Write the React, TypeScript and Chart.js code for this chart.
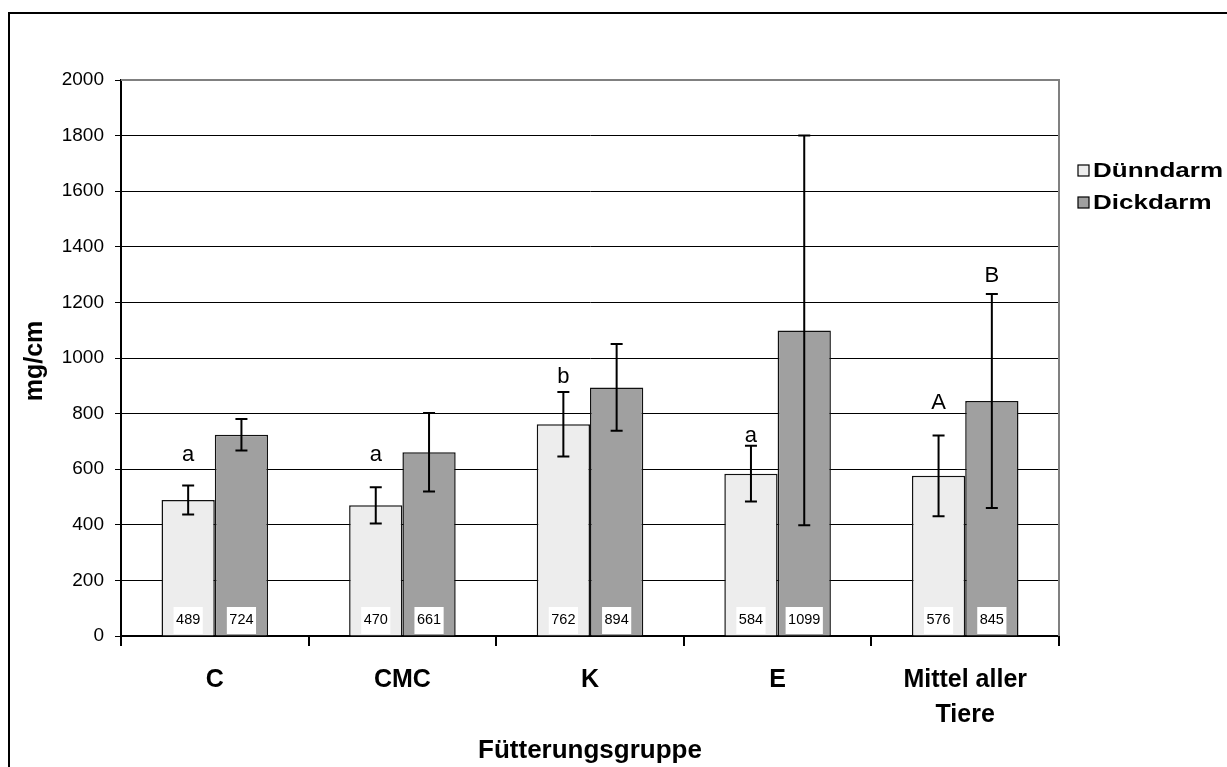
import React, { useEffect, useRef } from 'react';
import { Chart, registerables } from 'chart.js';

Chart.register(...registerables);

const categories: (string | string[])[] = ['C', 'CMC', 'K', 'E', ['Mittel aller', 'Tiere']];
const seriesNames = ['Dünndarm', 'Dickdarm'];
const duenndarm = [489, 470, 762, 584, 576];
const dickdarm = [724, 661, 894, 1099, 845];
const duenndarmErr = [52, 65, 116, 100, 145];
const dickdarmErr = [57, 141, 156, 701, 385];
const duenndarmLetters = ['a', 'a', 'b', 'a', 'A'];
const dickdarmLetters = ['', '', '', '', 'B'];
const duenndarmLetterLevel = [630, 630, 910, 698, 817];
const dickdarmLetterLevel = [0, 0, 0, 0, 1274];
const yTicksMin = 0;
const yTicksMax = 2000;
const yTickStep = 200;
const yTitle = 'mg/cm';
const xTitle = 'Fütterungsgruppe';

const FONT = '"Liberation Sans", Arial, Helvetica, sans-serif';
const LIGHT = '#EDEDED';
const DARK = '#A0A0A0';

export default function App() {
  const ref = useRef<HTMLCanvasElement | null>(null);

  useEffect(() => {
    const canvas = ref.current;
    if (!canvas) return;
    const errs = [duenndarmErr, dickdarmErr];
    const letters = [duenndarmLetters, dickdarmLetters];
    const letterLevels = [duenndarmLetterLevel, dickdarmLetterLevel];
    const colors = [LIGHT, DARK];

    const plugin = {
      id: 'customDecor',
      beforeDraw(chart: any) {
        const ctx = chart.ctx;
        ctx.save();
        ctx.fillStyle = '#fff';
        ctx.fillRect(0, 0, chart.width, chart.height);
        ctx.strokeStyle = '#000';
        ctx.lineWidth = 2;
        ctx.strokeRect(9, 13, chart.width + 50, chart.height + 50);
        ctx.restore();
      },
      afterDatasetsDraw(chart: any) {
        const ctx = chart.ctx;
        const yScale = chart.scales.y;
        ctx.save();
        for (let d = 0; d < 2; d++) {
          const meta = chart.getDatasetMeta(d);
          const vals = chart.data.datasets[d].data as number[];
          meta.data.forEach((bar: any, i: number) => {
            const x = bar.x;
            const yt = yScale.getPixelForValue(vals[i] + errs[d][i]);
            const yb = yScale.getPixelForValue(vals[i] - errs[d][i]);
            ctx.strokeStyle = '#000';
            ctx.lineWidth = 2;
            ctx.beginPath();
            ctx.moveTo(x, yt);
            ctx.lineTo(x, yb);
            ctx.moveTo(x - 6, yt);
            ctx.lineTo(x + 6, yt);
            ctx.moveTo(x - 6, yb);
            ctx.lineTo(x + 6, yb);
            ctx.stroke();
          });
        }
        ctx.font = `14.5px ${FONT}`;
        ctx.textAlign = 'center';
        ctx.textBaseline = 'middle';
        for (let d = 0; d < 2; d++) {
          const meta = chart.getDatasetMeta(d);
          const vals = chart.data.datasets[d].data as number[];
          meta.data.forEach((bar: any, i: number) => {
            const txt = String(vals[i]);
            const w = ctx.measureText(txt).width + 5;
            const bottom = yScale.bottom;
            ctx.fillStyle = '#fff';
            ctx.fillRect(bar.x - w / 2, bottom - 29, w, 27);
            ctx.fillStyle = '#000';
            ctx.fillText(txt, bar.x, bottom - 16);
          });
        }
        ctx.font = `22px ${FONT}`;
        ctx.textBaseline = 'alphabetic';
        for (let d = 0; d < 2; d++) {
          const meta = chart.getDatasetMeta(d);
          meta.data.forEach((bar: any, i: number) => {
            const l = letters[d][i];
            if (!l) return;
            ctx.fillText(l, bar.x, yScale.getPixelForValue(letterLevels[d][i]));
          });
        }
        ctx.restore();
      },
      afterDraw(chart: any) {
        const ctx = chart.ctx;
        const a = chart.chartArea;
        ctx.save();
        ctx.strokeStyle = '#808080';
        ctx.lineWidth = 2;
        ctx.beginPath();
        ctx.moveTo(a.left, a.top);
        ctx.lineTo(a.right, a.top);
        ctx.lineTo(a.right, a.bottom);
        ctx.stroke();
        ctx.fillStyle = '#000';
        ctx.font = `bold 26px ${FONT}`;
        ctx.textAlign = 'center';
        ctx.textBaseline = 'middle';
        ctx.fillText(xTitle, (a.left + a.right) / 2, 751);
        ctx.font = `bold 25px ${FONT}`;
        ctx.save();
        ctx.translate(35, 361);
        ctx.rotate(-Math.PI / 2);
        ctx.fillText(yTitle, 0, 0);
        ctx.restore();
        const rows = [171, 203];
        rows.forEach((ry, k) => {
          ctx.fillStyle = colors[k];
          ctx.fillRect(1078, ry - 6, 11, 11);
          ctx.strokeStyle = '#000';
          ctx.lineWidth = 1.2;
          ctx.strokeRect(1078, ry - 6, 11, 11);
          ctx.save();
          ctx.translate(1093, ry);
          ctx.scale(1.3, 1);
          ctx.fillStyle = '#000';
          ctx.font = `bold 20px ${FONT}`;
          ctx.textAlign = 'left';
          ctx.textBaseline = 'middle';
          ctx.fillText(seriesNames[k], 0, 0);
          ctx.restore();
        });
        ctx.restore();
      },
    };

    const chart = new Chart(canvas, {
      type: 'bar',
      data: {
        labels: categories,
        datasets: [
          {
            label: seriesNames[0],
            data: duenndarm,
            backgroundColor: LIGHT,
            borderColor: '#111',
            borderWidth: 1.5,
            categoryPercentage: 0.568,
            barPercentage: 1,
          },
          {
            label: seriesNames[1],
            data: dickdarm,
            backgroundColor: DARK,
            borderColor: '#111',
            borderWidth: 1.5,
            categoryPercentage: 0.568,
            barPercentage: 1,
          },
        ],
      },
      options: {
        animation: false,
        responsive: true,
        maintainAspectRatio: false,
        layout: { padding: { left: 0, top: 80, right: 168, bottom: 0 } },
        plugins: {
          legend: { display: false },
          tooltip: { enabled: false },
          title: { display: false },
        },
        scales: {
          x: {
            offset: true,
            grid: {
              display: true,
              offset: true,
              drawOnChartArea: false,
              drawTicks: true,
              tickLength: 10,
              color: '#000',
              lineWidth: 2,
            },
            border: { display: true, color: '#000', width: 2 },
            ticks: {
              color: '#000',
              padding: 17,
              maxRotation: 0,
              autoSkip: false,
              font: { family: FONT, size: 25, weight: 'bold', lineHeight: '35px' } as any,
            },
            afterFit: (s: any) => {
              s.height = 131;
            },
          },
          y: {
            min: yTicksMin,
            max: yTicksMax,
            ticks: {
              stepSize: yTickStep,
              color: '#000',
              padding: 11,
              font: { family: FONT, size: 19 },
              callback: (v: any) => String(v),
            },
            grid: {
              color: (c: any) => (c.tick && c.tick.value === yTicksMax ? '#808080' : '#000'),
              lineWidth: 1,
              drawTicks: true,
              tickLength: 6,
              tickColor: '#000',
            },
            border: { display: true, color: '#000', width: 2 },
            afterFit: (s: any) => {
              s.width = 121;
            },
          },
        },
      },
      plugins: [plugin],
    });

    return () => {
      chart.destroy();
    };
  }, []);

  return (
    <div style={{ position: 'fixed', left: 0, top: 0, width: 1227, height: 767, background: '#fff' }}>
      <canvas ref={ref} />
    </div>
  );
}
